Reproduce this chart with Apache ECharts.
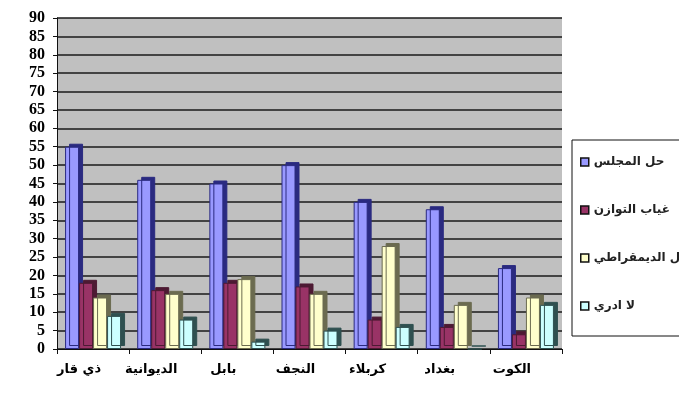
<!DOCTYPE html>
<html><head><meta charset="utf-8">
<script src="https://cdn.jsdelivr.net/npm/echarts@6/dist/echarts.min.js"></script>
<style>html,body{margin:0;padding:0;background:#fff}#c{width:679px;height:394px}</style>
</head><body><div id="c"></div>
<script>
const categories = ['ذي قار', 'الديوانية', 'بابل', 'النجف', 'كربلاء', 'بغداد', 'الكوت'];
const seriesNames = ['حل المجلس', 'غياب التوازن', 'التحول الديمقراطي', 'لا ادري'];
const s1 = [55, 46, 45, 50, 40, 38, 22];
const s2 = [18, 16, 18, 17, 8, 6, 4];
const s3 = [14, 15, 19, 15, 28, 12, 14];
const s4 = [9, 8, 2, 5, 6, 0, 12];
const yTicks = [0, 90, 5];

const fills = ['#9999ff', '#993366', '#ffffcc', '#ccffff'];
const sides = ['#2a2a80', '#4d1a33', '#6b6b50', '#2f5050'];
const data = [s1, s2, s3, s4];

const chart = echarts.init(document.getElementById('c'));
chart.setOption({
  animation: false,
  backgroundColor: '#ffffff',
  grid: { left: 57, right: 117, top: 18, bottom: 45, show: true, backgroundColor: '#c0c0c0', borderWidth: 0 },
  legend: {
    orient: 'vertical', left: 572, top: 140,
    padding: [16, 80, 24, 8],
    itemGap: 36, itemWidth: 8, itemHeight: 8,
    borderColor: '#111', borderWidth: 1, backgroundColor: '#fff',
    textStyle: { fontSize: 12, fontWeight: 'bold', color: '#222', fontFamily: 'DejaVu Sans' },
    data: seriesNames.map((n, i) => ({ name: n, icon: 'rect', itemStyle: { color: fills[i], borderColor: '#111', borderWidth: 1.5 } }))
  },
  xAxis: {
    type: 'category', data: categories,
    axisLine: { lineStyle: { color: '#111' } },
    axisTick: { show: true, alignWithLabel: false, lineStyle: { color: '#111' } },
    axisLabel: { margin: 14, padding: [0, 28, 0, 0], fontSize: 13, fontWeight: 'bold', color: '#000', fontFamily: 'DejaVu Sans' }
  },
  yAxis: {
    type: 'value', min: yTicks[0], max: yTicks[1], interval: yTicks[2],
    axisLine: { show: true, lineStyle: { color: '#111' } },
    axisTick: { show: true, length: 4, lineStyle: { color: '#111' } },
    splitLine: { lineStyle: { color: '#1a1a1a', width: 1.5 } },
    axisLabel: { margin: 12, fontSize: 16, fontWeight: 'bold', color: '#000', fontFamily: 'Liberation Sans Narrow' }
  },
  series: data.map((d, i) => ({
    name: seriesNames[i], type: 'bar', data: d,
    barWidth: 14, barGap: '0%',
    itemStyle: {
      color: fills[i], borderColor: sides[i], borderWidth: 1,
      shadowColor: sides[i], shadowOffsetX: 4, shadowOffsetY: -3, shadowBlur: 0
    }
  }))
});
</script></body></html>
